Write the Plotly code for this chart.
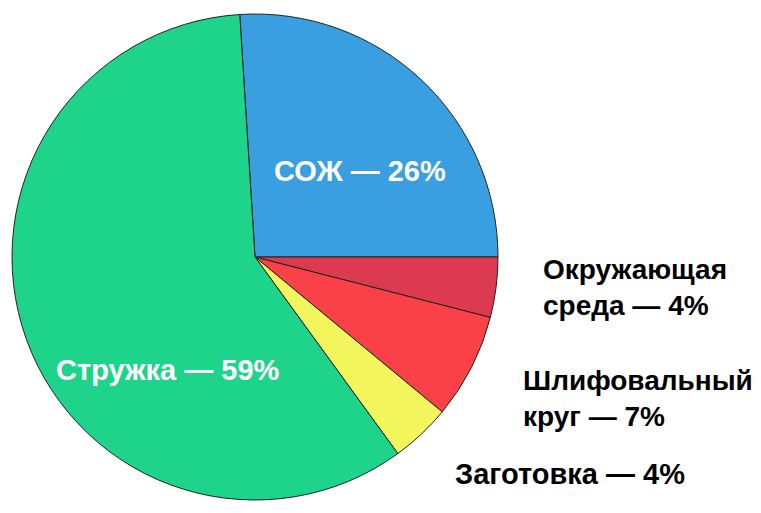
import plotly.graph_objects as go

categories = ["СОЖ", "Окружающая среда", "Шлифовальный круг", "Заготовка", "Стружка"]
values = [26, 4, 7, 4, 59]
label_texts = ["СОЖ — 26%", "Окружающая<br>среда — 4%", "Шлифовальный<br>круг — 7%",
               "Заготовка — 4%", "Стружка — 59%"]
colors = ["#3a9fe0", "#dc3a50", "#fa4148", "#f2f55c", "#1ed48a"]

OFF = 8  # browser default body margin
W, H = 761, 513

fig = go.Figure(go.Pie(
    labels=categories,
    values=values,
    sort=False,
    direction="clockwise",
    rotation=-3.6,
    marker=dict(colors=colors, line=dict(color="#222222", width=1)),
    textinfo="none",
    hoverinfo="label+percent",
    showlegend=False,
    domain=dict(x=[(12-OFF)/W, (498-OFF)/W], y=[1-(500-OFF)/H, 1-(14-OFF)/H]),
))

font_family = "Liberation Sans, Arial, sans-serif"
# (x_px, y_px, anchor, color, size) in screenshot coordinates
label_pos = [
    (360, 171, "center", "white", 29),
    (541, 287, "left", "black", 28),
    (521, 398, "left", "black", 28),
    (453, 474, "left", "black", 29),
    (168, 370, "center", "white", 29),
]
anns = []
for txt, (xp, yp, anc, col, sz) in zip(label_texts, label_pos):
    anns.append(dict(
        x=(xp-OFF)/W, y=1-(yp-OFF)/H, xref="paper", yref="paper",
        xanchor=anc, yanchor="middle", align="left",
        text="<b>"+txt+"</b>", showarrow=False,
        font=dict(family=font_family, size=sz, color=col),
    ))

fig.update_layout(
    width=W, height=H,
    margin=dict(l=0, r=0, t=0, b=0),
    paper_bgcolor="white",
    plot_bgcolor="white",
    annotations=anns,
)

fig.write_html("out.html")
